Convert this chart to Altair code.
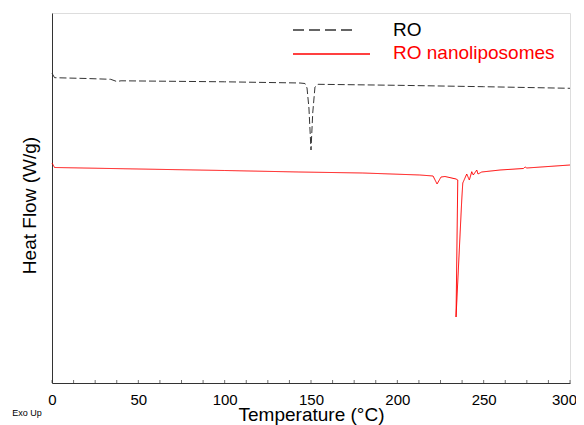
import altair as alt
import pandas as pd

# ---- data ----
ro_temp = [0, 1.5, 20, 34, 37.5, 40, 100, 143.6, 146.5, 147.7, 148.8, 150.0,
           151.0, 152.3, 154, 200, 250, 300]
ro_flow = [3.097, 3.053, 3.045, 3.037, 3.015, 3.022, 3.012, 3.000, 2.995, 2.95,
           2.75, 2.33, 2.70, 2.96, 2.987, 2.977, 2.963, 2.947]

nano_temp = [0, 1.5, 50, 100, 143, 180, 213, 220.7, 223.0, 225.3, 227.6, 234.0,
             235.0, 234.0, 237.3, 237.9, 240.2, 241.7, 243.1, 244.0, 246.0, 246.7,
             248.9, 259.5, 273, 274, 275, 300]
nano_flow = [2.20, 2.155, 2.14, 2.125, 2.11, 2.10, 2.08, 2.07, 1.99, 2.06, 2.065, 2.04,
             2.03, 0.66, 1.83, 2.00, 2.09, 2.03, 2.113, 2.08, 2.13, 2.09,
             2.11, 2.13, 2.145, 2.16, 2.15, 2.18]

series_names = ["RO", "RO nanoliposomes"]
series_colors = ["#333333", "#ff0000"]
x_tick_values = [0, 12.5, 25, 37.5, 50, 62.5, 75, 87.5, 100, 112.5, 125, 137.5, 150,
                 162.5, 175, 187.5, 200, 212.5, 225, 237.5, 250, 262.5, 275, 287.5, 300]
x_label_values = [0, 50, 100, 150, 200, 250, 300]

FONT = "Liberation Sans"
W, H = 518, 370

rows = []
for i, (t, v) in enumerate(zip(ro_temp, ro_flow)):
    rows.append({"series": "RO", "i": i, "temp": t, "flow": v})
for i, (t, v) in enumerate(zip(nano_temp, nano_flow)):
    rows.append({"series": "RO nanoliposomes", "i": i, "temp": t, "flow": v})
df = pd.DataFrame(rows)

xscale = alt.Scale(domain=[0, 300], nice=False, zero=False)
yscale = alt.Scale(domain=[0, 3.7], nice=False, zero=False)

lines = alt.Chart(df).mark_line(strokeWidth=1, interpolate="linear").encode(
    x=alt.X("temp:Q", scale=xscale,
            axis=alt.Axis(title="Temperature (°C)", values=x_label_values, format="d",
                          ticks=False, tickSize=0, domain=True, domainColor="#333333",
                          grid=False, labelFont=FONT, labelFontSize=15, labelColor="#000",
                          labelPadding=21, labelBaseline="alphabetic", labelFlush=False,
                          labelOverlap=False,
                          labelOffset=alt.ExprRef("datum.value == 300 ? -6 : 0"),
                          titleFont=FONT, titleFontSize=19, titleFontWeight="normal",
                          titleColor="#000", titleBaseline="alphabetic", titleY=37,
                          titleX=W / 2, titleAnchor="middle")),
    y=alt.Y("flow:Q", scale=yscale,
            axis=alt.Axis(title="Heat Flow (W/g)", labels=False, ticks=False, grid=False,
                          domain=True, domainColor="#333333",
                          titleFont=FONT, titleFontSize=19, titleFontWeight="normal",
                          titleColor="#000", titleBaseline="alphabetic",
                          titleX=-17, titleY=192, titleAngle=-90, titleAlign="center")),
    color=alt.Color("series:N", scale=alt.Scale(domain=series_names, range=series_colors),
                    legend=None),
    strokeDash=alt.StrokeDash("series:N",
                              scale=alt.Scale(domain=series_names, range=[[7, 3], [1, 0]]),
                              legend=None),
    order="i:Q",
    detail="series:N",
)

ticks = alt.Chart(pd.DataFrame({"t": x_tick_values})).mark_tick(
    orient="vertical", size=3, thickness=1, color="#333333"
).encode(x=alt.X("t:Q", scale=xscale), y=alt.value(H - 1.5))

leg_ro_line = alt.Chart(pd.DataFrame({"s": ["RO"]})).mark_rule(
    color="#333333", strokeDash=[11, 5], strokeWidth=1.5
).encode(x=alt.value(241), x2=alt.value(301), y=alt.value(17))
leg_nano_line = alt.Chart(pd.DataFrame({"s": ["RO nanoliposomes"]})).mark_rule(
    color="#ff0000", strokeWidth=1.5
).encode(x=alt.value(241), x2=alt.value(318), y=alt.value(41))
leg_ro_text = alt.Chart(pd.DataFrame({"s": ["RO"]})).mark_text(
    font=FONT, fontSize=19, color="#000000", align="left", baseline="alphabetic"
).encode(x=alt.value(341), y=alt.value(23), text="s:N")
leg_nano_text = alt.Chart(pd.DataFrame({"s": ["RO nanoliposomes"]})).mark_text(
    font=FONT, fontSize=19, color="#ff0000", align="left", baseline="alphabetic"
).encode(x=alt.value(341), y=alt.value(46), text="s:N")
exo = alt.Chart(pd.DataFrame({"s": ["Exo Up"]})).mark_text(
    font=FONT, fontSize=9, color="#000000", align="center", baseline="alphabetic"
).encode(x=alt.value(-25), y=alt.value(403), text="s:N")

chart = alt.layer(
    lines, ticks, leg_ro_line, leg_nano_line, leg_ro_text, leg_nano_text, exo
).properties(
    width=W, height=H,
    autosize=alt.AutoSizeParams(type="none"),
    padding={"left": 44, "top": 5, "right": 6, "bottom": 50},
).configure_view(stroke="#6e6e6e", strokeWidth=1).configure(background="white")

chart.save("out.html", embed_options={"renderer": "svg", "actions": False})
